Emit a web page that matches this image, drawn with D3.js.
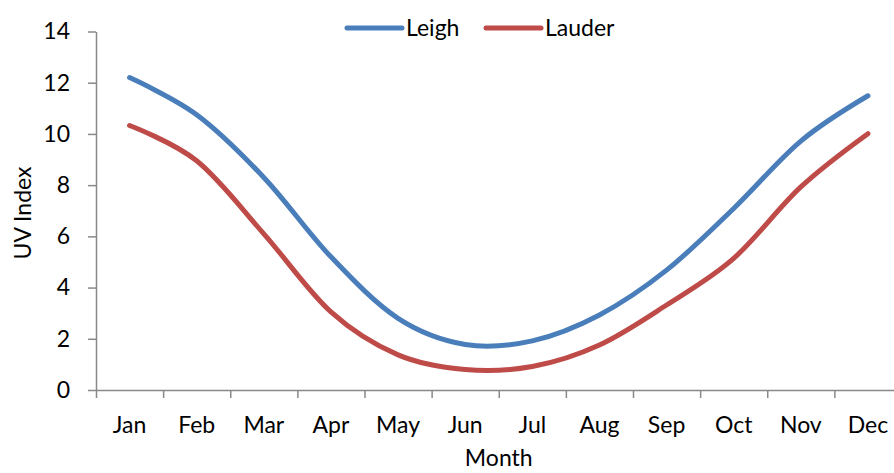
<!DOCTYPE html>
<html>
<head>
<meta charset="utf-8">
<script src="https://cdn.jsdelivr.net/npm/d3@7"></script>
<style>
  html, body { margin: 0; padding: 0; background: #fff; }
  svg { display: block; }
  text { font-family: Lato, "Liberation Sans", sans-serif; fill: #000; }
</style>
</head>
<body>
<svg id="chart" width="894" height="473"></svg>
<script>
const months = ["Jan","Feb","Mar","Apr","May","Jun","Jul","Aug","Sep","Oct","Nov","Dec"];
const leigh  = [12.2, 10.75, 8.3, 5.2, 2.8, 1.78, 1.92, 2.93, 4.68, 7.09, 9.72, 11.49];
const lauder = [10.33, 8.95, 6.1, 3.05, 1.37, 0.8, 0.92, 1.76, 3.32, 5.14, 7.93, 10.01];
const yTicks = [0, 2, 4, 6, 8, 10, 12, 14];
const seriesNames = ["Leigh", "Lauder"];
const seriesColors = ["#4A7EBB", "#BE4B48"];

(function () {
const svg = d3.select("#chart");
const pLeft = 96, pRight = 901.5, pTop = 31.5, pBottom = 390;
const fs = 23;
const axisColor = "#898989";

const x = d3.scaleBand().domain(months).range([pLeft, pRight]).padding(0);
const xBound = d3.scaleLinear().domain([0, months.length]).range([pLeft, pRight]);
const y = d3.scaleLinear().domain([0, 14]).range([pBottom, pTop]);

// Y axis
const yAxis = svg.append("g").attr("transform", `translate(${pLeft},0)`)
  .call(d3.axisLeft(y).tickValues(yTicks).tickSize(8).tickSizeOuter(0).tickPadding(18));
yAxis.select(".domain").attr("stroke", axisColor).attr("stroke-width", 1.5);
yAxis.selectAll(".tick line").attr("stroke", axisColor).attr("stroke-width", 1.5);
yAxis.selectAll(".tick text").style("font-size", fs + "px").attr("font-family", null);

// X axis: tick marks at category boundaries
const xTickAxis = svg.append("g").attr("transform", `translate(0,${pBottom})`)
  .call(d3.axisBottom(xBound).tickValues(d3.range(0, months.length + 1)).tickSize(8).tickSizeOuter(0).tickFormat(""));
xTickAxis.select(".domain").attr("stroke", axisColor).attr("stroke-width", 1.5);
xTickAxis.selectAll(".tick line").attr("stroke", axisColor).attr("stroke-width", 1.5);

// X labels at category centres
const xLab = svg.append("g").attr("transform", `translate(0,${pBottom})`)
  .call(d3.axisBottom(x).tickSize(0).tickPadding(27));
xLab.select(".domain").remove();
xLab.selectAll(".tick text").style("font-size", fs + "px").attr("font-family", null);

// Axis titles
svg.append("text").attr("x", (pLeft + pRight) / 2).attr("y", 466)
  .attr("text-anchor", "middle").style("font-size", fs + "px").text("Month");
svg.append("text").attr("transform", `translate(31,213) rotate(-90)`)
  .attr("text-anchor", "middle").style("font-size", fs + "px").text("UV Index");

// Lines
const line = d3.line()
  .x((d, i) => x(months[i]) + x.bandwidth() / 2)
  .y(d => y(d))
  .curve(d3.curveCardinal.tension(0));

[leigh, lauder].forEach((s, k) => {
  svg.append("path").datum(s).attr("d", line)
    .attr("fill", "none").attr("stroke", seriesColors[k])
    .attr("stroke-width", 5).attr("stroke-linecap", "round").attr("stroke-linejoin", "round");
});

// Legend
const legendX = [347, 486];
seriesNames.forEach((n, k) => {
  svg.append("line").attr("x1", legendX[k]).attr("x2", legendX[k] + 55)
    .attr("y1", 28).attr("y2", 28).attr("stroke", seriesColors[k])
    .attr("stroke-width", 5).attr("stroke-linecap", "round");
  svg.append("text").attr("x", legendX[k] + 59).attr("y", 36)
    .style("font-size", fs + "px").text(n);
});
})();
</script>
</body>
</html>
